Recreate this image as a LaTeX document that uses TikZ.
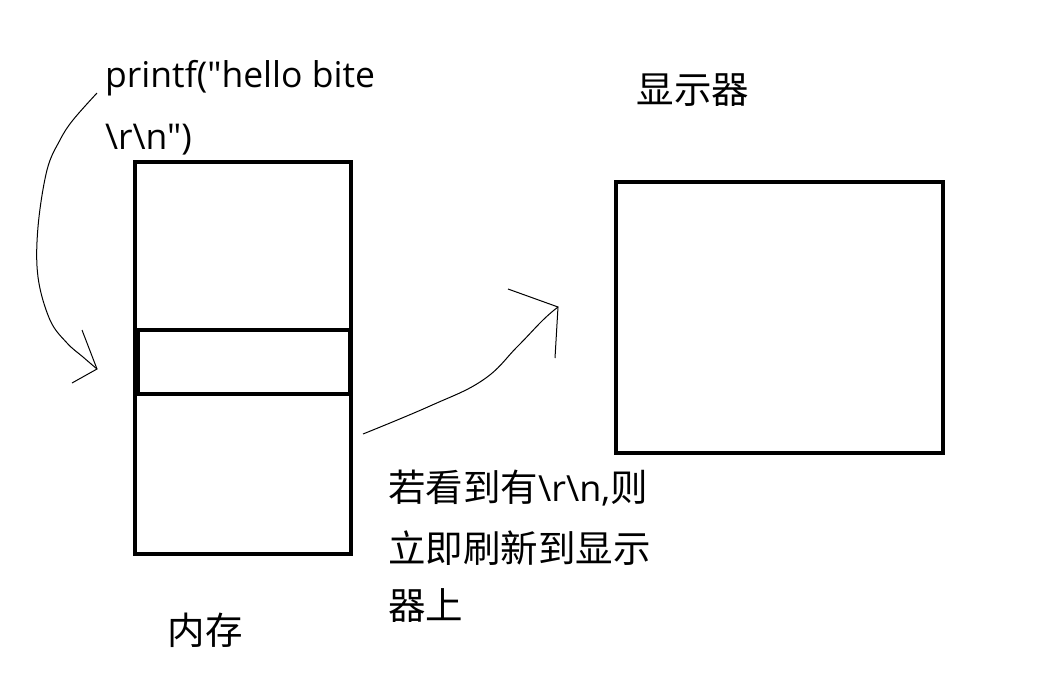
\documentclass[tikz,border=0pt]{standalone}
\usepackage{fontspec}
\setmainfont{Open Sans}[Ligatures=TeXOff]
\newfontfamily\cjk{Noto Sans CJK SC}
\begin{document}
\begin{tikzpicture}[x=1pt,y=-1pt,
  box/.style={draw=black,line width=4pt},
  hand/.style={draw=black,line width=1pt},
  lbl/.style={anchor=west,inner sep=0pt,font=\fontsize{35.5}{40}\selectfont},
  clbl/.style={inner sep=0pt,font=\cjk\fontsize{37.5}{42}\selectfont}]
\useasboundingbox (0,0) rectangle (1047,680);
% memory
\node[box,minimum width=216pt,minimum height=392pt,inner sep=0pt] (mem) at (243,358) {};
\node[box,minimum width=212pt,minimum height=64pt,inner sep=0pt] (slot) at (244,362) {};
% monitor
\node[box,minimum width=327pt,minimum height=271pt,inner sep=0pt] (mon) at (779.5,317.5) {};
% labels
\node[lbl] (p1) at (105,78) {printf("hello bite};
\node[lbl] (p2) at (105,140) {\textbackslash r\textbackslash n")};
\node[clbl] (disp) at (693,90) {显示器};
\node[clbl] (memlbl) at (205,630) {内存};
\node[clbl,anchor=west] (t1) at (388,488) {若看到有{\fontspec{Open Sans}\fontsize{36}{40}\selectfont\textbackslash r\textbackslash n,}则};
\node[clbl,anchor=west] (t2) at (388,548) {立即刷新到显示};
\node[clbl,anchor=west] (t3) at (388,606) {器上};
% arrow 1
\coordinate (a1s) at (97,93);
\coordinate (a1e) at (97,369);
\draw[hand] plot[smooth,tension=0.6] coordinates {(a1s) (73,120) (60,140) (47,170) (38,227) (38,277) (50,320) (67,343) (83,357) (a1e)};
\draw[hand] (82,330) -- (a1e) -- (72,383);
% arrow 2
\coordinate (a2s) at (363,434);
\coordinate (a2e) at (558,307);
\draw[hand] plot[smooth,tension=0.7] coordinates {(a2s) (430,406) (483,380) (517,347) (543,320) (a2e)};
\draw[hand] (508,289) -- (a2e) -- (555,358);
\end{tikzpicture}
\end{document}
